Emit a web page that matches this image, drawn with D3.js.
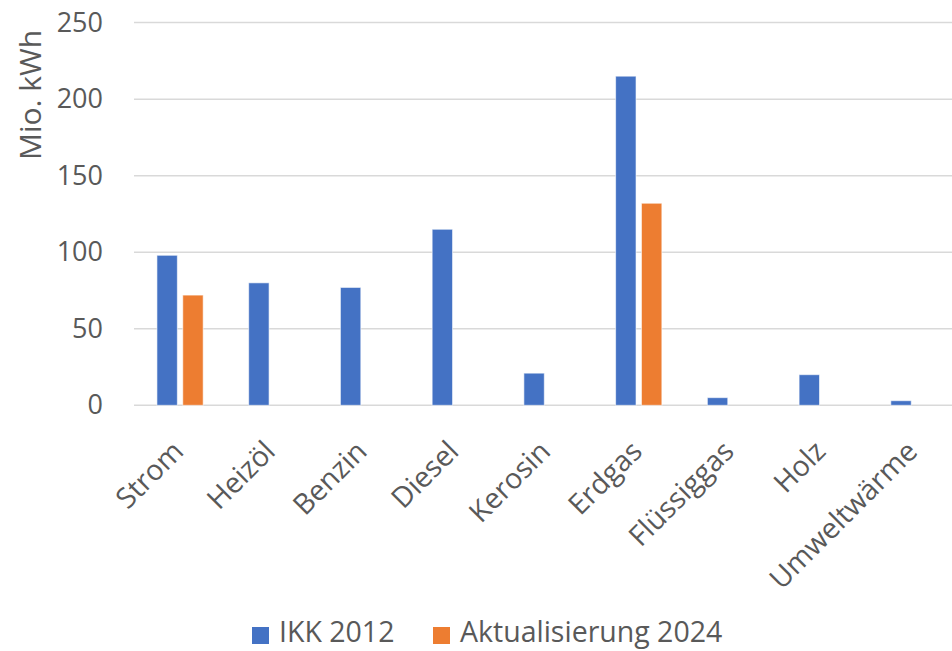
<!DOCTYPE html>
<html>
<head>
<meta charset="utf-8">
<script src="https://cdn.jsdelivr.net/npm/d3@7"></script>
<style>
  body { margin: 0; background: #fff; }
  svg { font-family: "Open Sans", Lato, sans-serif; }
</style>
</head>
<body>
<div id="chart"></div>
<script>
// data
var categories = ["Strom", "Heizöl", "Benzin", "Diesel", "Kerosin", "Erdgas", "Flüssiggas", "Holz", "Umweltwärme"];
var seriesNames = ["IKK 2012", "Aktualisierung 2024"];
var ikk2012 = [98, 80, 77, 115, 21, 215, 5, 20, 3];
var akt2024 = [72, null, null, null, null, 132, null, null, null];
var yTicks = [0, 50, 100, 150, 200, 250];

var colors = ["#4472C4", "#ED7D31"];
var textColor = "#595959";
var fontFam = "'Open Sans', Lato, sans-serif";

var width = 952, height = 651;

var svg = d3.select("#chart")
    .append("svg")
    .attr("width", width)
    .attr("height", height);

var x0 = d3.scaleBand()
    .domain(categories)
    .range([134, 960])
    .paddingInner(0.496)
    .paddingOuter(0.25);

var x1 = d3.scaleBand()
    .domain(seriesNames)
    .range([0, x0.bandwidth()])
    .paddingInner(0.21);

var y = d3.scaleLinear()
    .domain([0, 250])
    .range([405.3, 22.6]);

// gridlines
svg.append("g")
    .selectAll("line")
    .data(yTicks)
    .enter()
    .append("line")
    .attr("x1", 134)
    .attr("x2", 952)
    .attr("y1", d => y(d))
    .attr("y2", d => y(d))
    .attr("stroke", "#D9D9D9")
    .attr("stroke-width", 1.5);

// y axis labels
var yAxis = d3.axisLeft(y).tickValues(yTicks).tickSize(0).tickPadding(0);
var yg = svg.append("g")
    .attr("transform", "translate(103,0)")
    .call(yAxis);
yg.select(".domain").remove();
yg.selectAll("text")
    .attr("font-size", 27)
    .attr("font-family", fontFam)
    .attr("fill", textColor);

// y title
svg.append("text")
    .attr("transform", "translate(41,95) rotate(-90)")
    .attr("text-anchor", "middle")
    .attr("font-size", 30)
    .attr("fill", textColor)
    .text("Mio. kWh");

// bars
var rows = categories.map(function(c, i) {
    return { cat: c, values: [ikk2012[i], akt2024[i]] };
});

var groups = svg.append("g")
    .selectAll("g")
    .data(rows)
    .enter()
    .append("g")
    .attr("transform", d => `translate(${x0(d.cat)},0)`);

groups.selectAll("rect")
    .data(d => d.values.map((v, j) => ({ name: seriesNames[j], value: v, idx: j })).filter(e => e.value != null))
    .enter()
    .append("rect")
    .attr("x", d => x1(d.name))
    .attr("width", x1.bandwidth())
    .attr("y", d => y(d.value))
    .attr("height", d => y(0) - y(d.value))
    .attr("fill", d => colors[d.idx])
    .attr("stroke", "#fff")
    .attr("stroke-opacity", 0.6)
    .attr("stroke-width", 1);

// x labels rotated
svg.append("g")
    .selectAll("text")
    .data(categories)
    .enter()
    .append("text")
    .attr("transform", d => `translate(${x0(d) + x0.bandwidth() / 2 - 2},${446}) rotate(-45)`)
    .attr("text-anchor", "end")
    .attr("dy", "0.35em")
    .attr("font-size", 28.5)
    .attr("fill", textColor)
    .text(d => d);

// legend
var legendX = [252, 433];
var legend = svg.append("g")
    .selectAll("g")
    .data(seriesNames)
    .enter()
    .append("g")
    .attr("transform", (d, i) => `translate(${legendX[i]},627)`);

legend.append("rect")
    .attr("width", 17)
    .attr("height", 17)
    .attr("fill", (d, i) => colors[i]);

legend.append("text")
    .attr("x", 27)
    .attr("y", 15)
    .attr("font-size", 28.5)
    .attr("fill", textColor)
    .text(d => d);
</script>
</body>
</html>
